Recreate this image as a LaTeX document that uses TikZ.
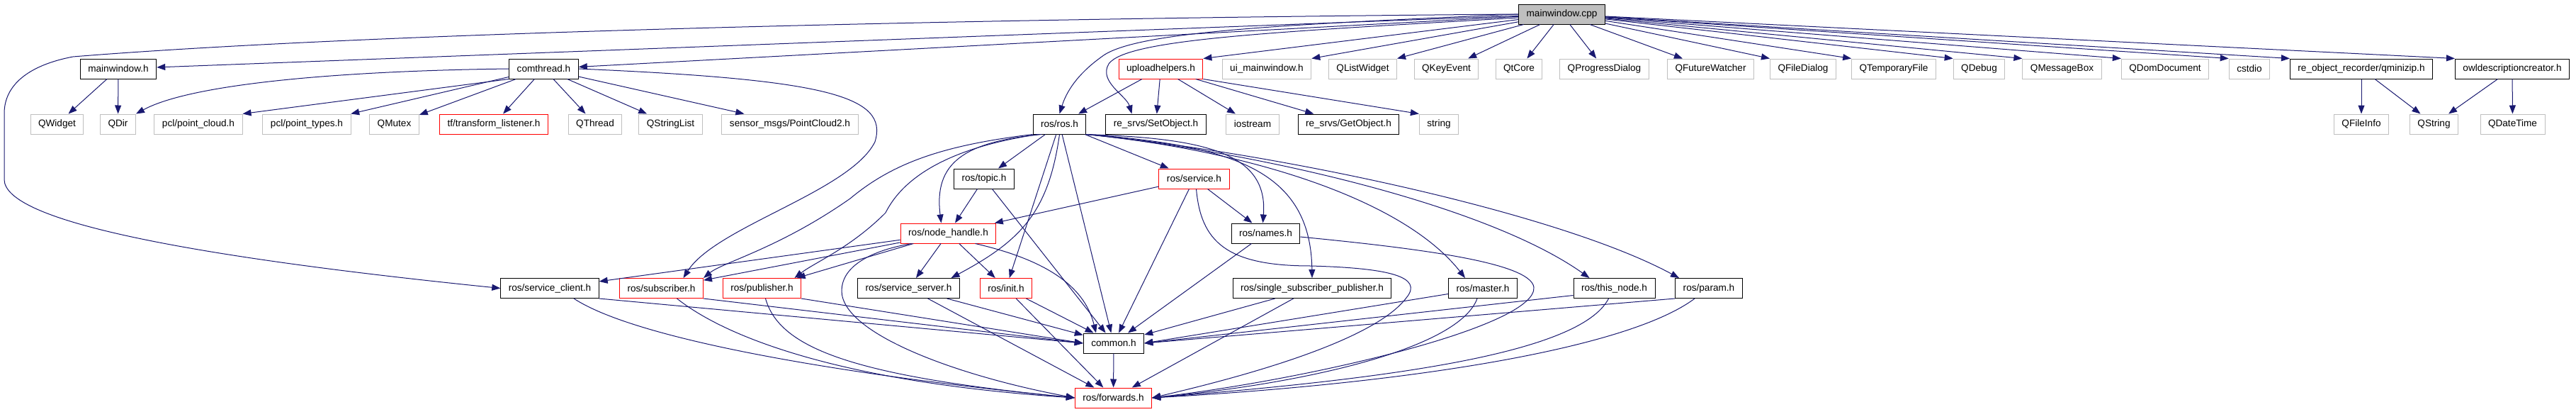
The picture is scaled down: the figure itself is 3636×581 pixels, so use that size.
\documentclass[tikz,border=0pt]{standalone}
\usepackage{fontspec}
\setmainfont{Liberation Sans}
\usetikzlibrary{arrows.meta}

\definecolor{midnight}{HTML}{191970}
\definecolor{grey75}{HTML}{BFBFBF}

\tikzset{
    file/.style={draw=black, line width=1pt, minimum height=28pt, inner xsep=11pt, inner ysep=0pt, font=\fontsize{13.6}{16}\selectfont},
    extfile/.style={file, draw=grey75},
    cutfile/.style={file, draw=red},
    dep/.style={draw=midnight, line width=1pt, -{Triangle[length=12pt,width=9pt]}}
}

\begin{document}
\begin{tikzpicture}[x=1pt,y=-1pt]
    \useasboundingbox (0,0) rectangle (3636,581);

    % Source file
    \node[file, fill=grey75] (cpp) at (2204.5,20) {mainwindow.cpp};

    % First level includes
    \node[file] (mwh) at (167,97) {mainwindow.h};
    \node[file] (com) at (767.5,97) {comthread.h};
    \node[cutfile] (upl) at (1638.5,97) {uploadhelpers.h};
    \node[extfile] (uim) at (1788,97) {ui\_mainwindow.h};
    \foreach \n/\x/\t in {qlw/1923.5/QListWidget, qke/2041.5/QKeyEvent, qtc/2144/QtCore, qpd/2264.5/QProgressDialog, qfw/2414.5/QFutureWatcher, qfd/2545/QFileDialog, qtf/2673/QTemporaryFile, qdb/2793.5/QDebug, qmb/2910.5/QMessageBox, qdd/3056/QDomDocument, cst/3175/cstdio}
        \node[extfile] (\n) at (\x,97) {\t};
    \node[file] (zip) at (3333,97) {re\_object\_recorder/qminizip.h};
    \node[file] (owl) at (3546,97) {owldescriptioncreator.h};

    % Second level
    \foreach \n/\x/\t in {qwd/80.5/QWidget, qdr/166.5/QDir, qmx/556.5/QMutex, qth/840/QThread, qsl/946.5/QStringList, ios/1768/iostream, str/2031/string, qfi/3333/QFileInfo, qst/3435.5/QString, qdt/3546.5/QDateTime}
        \node[extfile] (\n) at (\x,175) {\t};
    \node[extfile] (pcc) at (280,175) {pcl/point\_cloud.h};
    \node[extfile] (pct) at (433,175) {pcl/point\_types.h};
    \node[cutfile] (tfl) at (697,175) {tf/transform\_listener.h};
    \node[extfile] (spc) at (1115,175) {sensor\_msgs/PointCloud2.h};
    \node[file] (ros) at (1495.5,175) {ros/ros.h};
    \node[file] (set) at (1631.5,175) {re\_srvs/SetObject.h};
    \node[file] (get) at (1903.5,175) {re\_srvs/GetObject.h};

    % ros headers
    \node[file] (tpc) at (1389,252) {ros/topic.h};
    \node[cutfile] (srv) at (1685.5,252) {ros/service.h};
    \node[cutfile] (nh) at (1338.5,329) {ros/node\_handle.h};
    \node[file] (nam) at (1786.5,329) {ros/names.h};
    \node[file] (scl) at (776,406.5) {ros/service\_client.h};
    \node[cutfile] (sub) at (933.5,406.5) {ros/subscriber.h};
    \node[cutfile] (pub) at (1075.5,406.5) {ros/publisher.h};
    \node[file] (ssv) at (1282.5,406.5) {ros/service\_server.h};
    \node[cutfile] (ini) at (1420,406.5) {ros/init.h};
    \node[file] (ssp) at (1852,406.5) {ros/single\_subscriber\_publisher.h};
    \node[file] (mst) at (2093,406.5) {ros/master.h};
    \node[file] (thn) at (2278.5,406.5) {ros/this\_node.h};
    \node[file] (par) at (2412,406.5) {ros/param.h};
    \node[file] (cmn) at (1572,484) {common.h};
    \node[cutfile] (fwd) at (1571.5,561) {ros/forwards.h};

    % Straight includes
    \foreach \a/\b in {cpp/mwh, cpp/com, cpp/qke, cpp/qtc, cpp/qpd, cpp/qfw, mwh/qwd, mwh/qdr, com/pct, com/qmx, com/tfl, com/qth, com/qsl, com/spc, upl/ros, upl/set, upl/ios, upl/get, zip/qfi, zip/qst, owl/qst, owl/qdt, ros/tpc, ros/srv, ros/ini, ros/cmn, tpc/nh, tpc/cmn, srv/nh, srv/nam, srv/cmn, nam/cmn, nh/scl, nh/sub, nh/pub, nh/ssv, nh/ini, ssv/cmn, ssv/fwd, ini/cmn, ini/fwd, ssp/cmn, ssp/fwd, cmn/fwd}
        \draw[dep] (\a) -- (\b);

    % Includes ending on a corner
    \foreach \b in {upl, uim, qlw} \draw[dep] (cpp) -- (\b.north east);
    \foreach \b in {qfd, qtf, qdb, qmb, qdd, cst, zip, owl} \draw[dep] (cpp) -- (\b.north west);
    \draw[dep] (com.south west) -- (pcc.north east);
    \draw[dep] (upl.south east) -- (str.north west);
    \draw[dep] (scl.south east) -- (cmn.west);
    \draw[dep] (sub.south east) -- (cmn.west);
    \draw[dep] (pub.south east) -- (cmn.west);
    \draw[dep] ([yshift=-8pt]mst.west) -- (cmn.east);
    \draw[dep] ([yshift=-10pt]thn.west) -- (cmn.east);
    \draw[dep] (par.south west) -- (cmn.east);

    % mainwindow.cpp round the left side
    \draw[dep] (cpp.west) .. controls (1600,24) and (600,40) .. (103,80) .. controls (40,92) and (6,120) .. (6,160) -- (6,253) .. controls (6,310) and (250,360) .. (scl.west);
    \draw[dep] (cpp.west) .. controls (1800,35) and (1600,45) .. (1555,80) .. controls (1520,105) and (1505,130) .. (ros.north);
    \draw[dep] ([yshift=-5pt]cpp.west) .. controls (1800,45) and (1590,55) .. (1565,90) .. controls (1550,115) and (1590,135) .. ([xshift=-34pt]set.north);

    % comthread curves
    \draw[dep] (com.east) .. controls (1165,112) and (1255,135) .. (1235,200) .. controls (1200,270) and (1010,320) .. ([xshift=31pt]sub.north);
    \draw[dep] (com.west) .. controls (480,100) and (270,118) .. (qdr.north east);

    % ros/ros.h fanning out
    \draw[dep] (ros.south west) .. controls (1330,205) and (1260,230) .. (1200,280) .. controls (1100,350) and (1020,370) .. (sub.north east);
    \draw[dep] ([xshift=-30pt]ros.south) .. controls (1360,205) and (1280,240) .. (1250,300) .. controls (1200,350) and (1150,370) .. ([xshift=46pt]pub.north);
    \draw[dep] ([xshift=-25pt]ros.south) .. controls (1360,200) and (1318,230) .. ([xshift=-10pt]nh.north);
    \draw[dep] (ros.south) .. controls (1480,300) and (1440,340) .. ([xshift=60pt]ssv.north);
    \draw[dep] (ros.south east) .. controls (1700,195) and (1790,215) .. ([xshift=-4pt]nam.north);
    \draw[dep] (ros.south east) .. controls (1740,205) and (1850,240) .. (ssp.north);
    \draw[dep] (ros.south east) .. controls (1760,212) and (1980,280) .. ([xshift=-25pt]mst.north);
    \draw[dep] (ros.south east) .. controls (1780,215) and (2100,290) .. ([xshift=-35pt]thn.north);
    \draw[dep] (ros.south east) .. controls (1800,215) and (2200,300) .. ([xshift=-42pt]par.north);

    % long ways down to forwards and common
    \draw[dep] ([xshift=3pt]srv.south) .. controls (1695,340) and (1730,375) .. (1850,375) .. controls (1960,378) and (2010,390) .. (1985,420) .. controls (1940,480) and (1760,530) .. (fwd.east);
    \draw[dep] ([yshift=-5pt]nam.east) .. controls (2000,350) and (2160,370) .. (2165,405) .. controls (2170,460) and (1850,535) .. (fwd.east);
    \draw[dep] ([xshift=-52pt]nh.south) .. controls (1220,355) and (1188,380) .. (1188,410) .. controls (1188,470) and (1350,530) .. (fwd.west);
    \draw[dep] ([xshift=38pt]nh.south) .. controls (1470,365) and (1530,400) .. ([xshift=-25pt]cmn.north);

    % into forwards from the left
    \draw[dep] ([xshift=34pt]scl.south) .. controls (900,480) and (1200,530) .. (fwd.west);
    \draw[dep] ([xshift=22pt]sub.south) .. controls (1030,480) and (1200,540) .. (fwd.west);
    \draw[dep] ([xshift=5pt]pub.south) .. controls (1100,490) and (1200,530) .. (fwd.west);
    % and from the right
    \draw[dep] ([xshift=-8pt]mst.south) .. controls (2060,490) and (1850,540) .. (fwd.east);
    \draw[dep] ([xshift=-8pt]thn.south) .. controls (2230,500) and (1950,535) .. (fwd.east);
    \draw[dep] ([xshift=-20pt]par.south) .. controls (2300,490) and (2000,540) .. (fwd.east);
\end{tikzpicture}
\end{document}
